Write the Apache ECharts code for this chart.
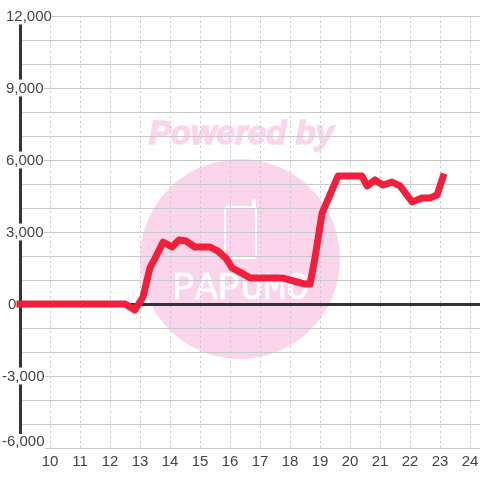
<!DOCTYPE html>
<html>
<head>
<meta charset="utf-8">
<style>html,body{margin:0;padding:0;background:#fff}#main{width:480px;height:480px}</style>
<script src="https://cdn.jsdelivr.net/npm/echarts@6/dist/echarts.min.js"></script>
</head>
<body>
<div id="main"></div>
<script>
// hours of the day
var hours = [9, 12.5, 12.83, 13.1, 13.33, 13.5, 13.77, 14.07, 14.3, 14.53, 14.83, 15.33, 15.6, 15.87, 16.07, 16.33, 16.67, 17.77, 18.5, 18.67, 18.83, 19.07, 19.6, 20.4, 20.57, 20.83, 21.1, 21.4, 21.67, 22.07, 22.4, 22.67, 22.9, 23.1];
var hourValues = [0, 0, -250, 290, 1500, 1900, 2580, 2375, 2670, 2625, 2375, 2375, 2200, 1900, 1500, 1330, 1080, 1080, 830, 830, 1900, 3790, 5330, 5330, 4920, 5170, 4960, 5080, 4920, 4250, 4420, 4420, 4540, 5290];
var yLabelMin = -6000, yLabelMax = 12000, yLabelStep = 3000;

var points = hours.map(function (h, i) { return [h, hourValues[i]]; });

var myChart = echarts.init(document.getElementById('main'));

myChart.setOption({
    animation: false,
    grid: { left: 20, right: 0, top: 16, bottom: 32, outerBoundsMode: 'none' },
    // watermark behind the plot
    graphic: [
        { type: 'circle', z: -10, shape: { cx: 240, cy: 259, r: 100 }, style: { fill: '#fbd5ec' } },
        { type: 'text', z: -10, left: 148, top: 118, style: { text: 'Powered by', fill: '#fbd5ec', stroke: '#fbd5ec', lineWidth: 1.5, font: 'italic bold 33px "Liberation Sans"' } },
        { type: 'rect', z: -9, shape: { x: 225, y: 207, width: 31, height: 51, r: 3 }, style: { fill: 'none', stroke: '#fff', lineWidth: 2 } },
        { type: 'line', z: -9, shape: { x1: 254, y1: 207, x2: 254, y2: 201 }, style: { stroke: '#fff', lineWidth: 4, lineCap: 'round' } },
        { type: 'text', z: -9, left: 172, top: 270, style: { text: 'PAPUMO', fill: '#fff', stroke: '#fff', lineWidth: 0.5, font: '38px "Liberation Mono"' } }
    ],
    xAxis: {
        type: 'value',
        min: 9,
        max: 24.333,
        interval: 1,
        axisLine: { onZero: true, lineStyle: { color: '#333', width: 3 } },
        axisTick: { show: false },
        axisLabel: {
            margin: 6,
            showMinLabel: false,
            showMaxLabel: false,
            hideOverlap: false,
            color: '#444',
            fontFamily: 'Liberation Sans',
            fontSize: 15
        },
        splitLine: { show: true, lineStyle: { color: '#c8c8c8', type: [2, 3], width: 1 } }
    },
    yAxis: {
        type: 'value',
        min: yLabelMin,
        max: yLabelMax,
        interval: yLabelStep,
        axisLine: { show: true, onZero: false, lineStyle: { color: '#333', width: 3 } },
        axisTick: { show: false },
        minorTick: { show: false, splitNumber: 3 },
        axisLabel: {
            margin: 18,
            align: 'left',
            color: '#444',
            fontFamily: 'Liberation Sans',
            fontSize: 15,
            backgroundColor: '#fff',
            formatter: function (v) {
                var s = v.toLocaleString('en-US');
                if (v === yLabelMin) return '{low|' + s + '}';
                if (v < 0) return '{neg|' + s + '}';
                return v === 0 ? '{zero|' + s + '}' : '{pos|' + s + '}';
            },
            rich: {
                low: { fontSize: 15, color: '#444', padding: [0, 0, 13, 0] },
                neg: { fontSize: 15, color: '#444', padding: [2, 0, 0, 0] },
                pos: { fontSize: 15, color: '#444', padding: [2, 0, 0, 4] },
                zero: { fontSize: 15, color: '#444', padding: [2, 0, 0, 6] }
            }
        },
        splitLine: { show: true, lineStyle: { color: '#c8c8c8', width: 1 } },
        minorSplitLine: { show: true, lineStyle: { color: '#c8c8c8', width: 1 } }
    },
    series: [{
        type: 'line',
        data: points,
        showSymbol: false,
        clip: false,
        lineStyle: { color: '#f0203a', width: 7, cap: 'square', join: 'round' },
        z: 5
    }]
}, true);
</script>
</body>
</html>
